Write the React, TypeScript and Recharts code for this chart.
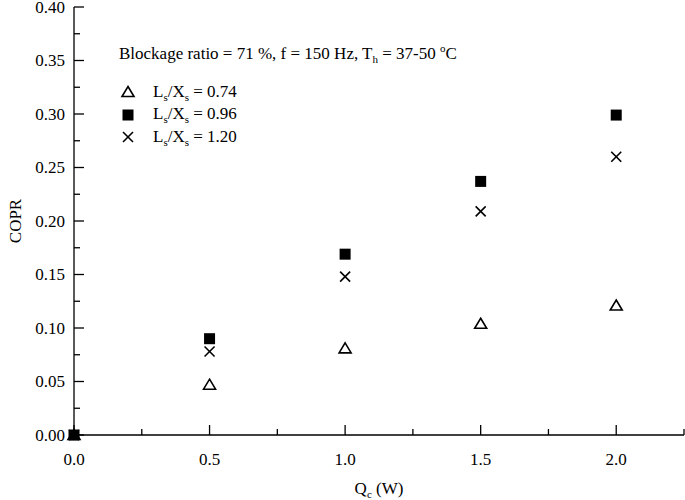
// COPR vs. cooling load scatter (Recharts), three L_s/X_s ratios.

import { ScatterChart, Scatter, XAxis, YAxis } from 'recharts';

const qc = [0, 0.5, 1.0, 1.5, 2.0];
const copr074 = [0, 0.047, 0.081, 0.104, 0.121];
const copr096 = [0, 0.09, 0.169, 0.237, 0.299];
const copr120 = [0, 0.078, 0.148, 0.209, 0.26];

const xTicks = [0, 0.25, 0.5, 0.75, 1.0, 1.25, 1.5, 1.75, 2.0, 2.25];
const yTicks = [
  0, 0.025, 0.05, 0.075, 0.1, 0.125, 0.15, 0.175, 0.2, 0.225, 0.25, 0.275, 0.3, 0.325, 0.35, 0.375, 0.4,
];

const FONT = '"Liberation Serif", "Times New Roman", serif';
const INK = '#000';

const toPoints = (ys: number[]) => qc.map((x, i) => ({ x, y: ys[i] }));

const isMajor = (v: number, step: number) => Math.abs(v / step - Math.round(v / step)) < 1e-6;

function Tri({ cx, cy }: { cx: number; cy: number }) {
  return (
    <polygon
      points={`${cx},${cy - 5.5} ${cx + 6},${cy + 4.5} ${cx - 6},${cy + 4.5}`}
      fill="#fff"
      stroke={INK}
      strokeWidth={1.6}
    />
  );
}

function Sq({ cx, cy }: { cx: number; cy: number }) {
  return <rect x={cx - 5.5} y={cy - 5.5} width={11} height={11} fill={INK} />;
}

function Cross({ cx, cy }: { cx: number; cy: number }) {
  return (
    <g stroke={INK} strokeWidth={1.6}>
      <line x1={cx - 5} y1={cy - 5} x2={cx + 5} y2={cy + 5} />
      <line x1={cx - 5} y1={cy + 5} x2={cx + 5} y2={cy - 5} />
    </g>
  );
}

// tickSize/tickMargin are 0, so x/y is the axis line itself; ticks point inward
function BottomTick({ x, y, payload }: any) {
  const major = isMajor(payload.value, 0.5);
  return (
    <g>
      <line x1={x} x2={x} y1={y} y2={y - (major ? 10 : 6)} stroke={INK} strokeWidth={1.3} />
      {major && (
        <text x={x} y={y + 30} textAnchor="middle" fontFamily={FONT} fontSize={17} fill={INK}>
          {payload.value.toFixed(1)}
        </text>
      )}
    </g>
  );
}

function TopTick({ x, y, payload }: any) {
  const major = isMajor(payload.value, 0.5);
  return <line x1={x} x2={x} y1={y} y2={y + (major ? 10 : 6)} stroke={INK} strokeWidth={1.3} />;
}

function LeftTick({ x, y, payload }: any) {
  const major = isMajor(payload.value, 0.05);
  return (
    <g>
      <line x1={x} x2={x + (major ? 10 : 6)} y1={y} y2={y} stroke={INK} strokeWidth={1.3} />
      {major && (
        <text x={x - 9} y={y + 5.5} textAnchor="end" fontFamily={FONT} fontSize={17} fill={INK}>
          {payload.value.toFixed(2)}
        </text>
      )}
    </g>
  );
}

function RightTick({ x, y, payload }: any) {
  const major = isMajor(payload.value, 0.05);
  return <line x1={x} x2={x - (major ? 10 : 6)} y1={y} y2={y} stroke={INK} strokeWidth={1.3} />;
}

const axisLine = { stroke: INK, strokeWidth: 1.3 };

const legendRows = [
  { Shape: Tri, value: '0.74' },
  { Shape: Sq, value: '0.96' },
  { Shape: Cross, value: '1.20' },
];

const sub = { fontSize: 11 };

export default function App() {
  return (
    <div
      style={{ position: 'absolute', left: 0, top: 0, width: 685, height: 500, background: '#fff', fontFamily: FONT }}
    >
      <ScatterChart width={685} height={500} margin={{ top: 7, right: 1, left: 0, bottom: 0 }}>
        <XAxis
          xAxisId="b"
          type="number"
          dataKey="x"
          domain={[0, 2.25]}
          ticks={xTicks}
          height={65}
          tickSize={0}
          tickMargin={0}
          tickLine={false}
          axisLine={axisLine}
          tick={BottomTick}
          interval={0}
          label={({ viewBox }: any) => (
            <text
              x={viewBox.x + viewBox.width / 2}
              y={viewBox.y + 59}
              textAnchor="middle"
              fontFamily={FONT}
              fontSize={17}
              fill={INK}
            >
              Q
              <tspan dy={4} fontSize={11}>
                c
              </tspan>
              <tspan dy={-4}> (W)</tspan>
            </text>
          )}
        />
        <XAxis
          xAxisId="t"
          orientation="top"
          type="number"
          dataKey="x"
          domain={[0, 2.25]}
          ticks={xTicks}
          allowDataOverflow
          height={0}
          tickSize={0}
          tickMargin={0}
          tickLine={false}
          axisLine={axisLine}
          tick={TopTick}
          interval={0}
        />
        <YAxis
          yAxisId="l"
          type="number"
          dataKey="y"
          domain={[0, 0.4]}
          ticks={yTicks}
          width={74}
          tickSize={0}
          tickMargin={0}
          tickLine={false}
          axisLine={axisLine}
          tick={LeftTick}
          interval={0}
          label={({ viewBox }: any) => {
            const cx = viewBox.x + 15;
            const cy = viewBox.y + viewBox.height / 2;
            return (
              <text
                x={cx}
                y={cy}
                textAnchor="middle"
                dominantBaseline="central"
                transform={`rotate(-90 ${cx} ${cy})`}
                fontFamily={FONT}
                fontSize={17}
                fill={INK}
              >
                COPR
              </text>
            );
          }}
        />
        <YAxis
          yAxisId="r"
          orientation="right"
          type="number"
          dataKey="y"
          domain={[0, 0.4]}
          ticks={yTicks}
          allowDataOverflow
          width={0}
          tickSize={0}
          tickMargin={0}
          tickLine={false}
          axisLine={axisLine}
          tick={RightTick}
          interval={0}
        />
        <Scatter
          xAxisId="b"
          yAxisId="l"
          name="Ls/Xs = 0.74"
          data={toPoints(copr074)}
          isAnimationActive={false}
          shape={(p: any) => <Tri cx={p.cx} cy={p.cy} />}
        />
        <Scatter
          xAxisId="b"
          yAxisId="l"
          name="Ls/Xs = 1.20"
          data={toPoints(copr120)}
          isAnimationActive={false}
          shape={(p: any) => <Cross cx={p.cx} cy={p.cy} />}
        />
        <Scatter
          xAxisId="b"
          yAxisId="l"
          name="Ls/Xs = 0.96"
          data={toPoints(copr096)}
          isAnimationActive={false}
          shape={(p: any) => <Sq cx={p.cx} cy={p.cy} />}
        />
        {/* mirror axes need a series to get a domain */}
        <Scatter xAxisId="t" yAxisId="r" data={[]} isAnimationActive={false} />
      </ScatterChart>

      <div
        style={{
          position: 'absolute',
          left: 119,
          top: 37,
          fontSize: 17,
          lineHeight: '22px',
          color: INK,
          whiteSpace: 'nowrap',
        }}
      >
        Blockage ratio = 71 %, f = 150 Hz, T<sub style={sub}>h</sub> = 37-50 <sup style={sub}>o</sup>C
      </div>
      <div style={{ position: 'absolute', left: 116, top: 81, fontSize: 17, color: INK }}>
        {legendRows.map(({ Shape, value }) => (
          <div key={value} style={{ display: 'flex', alignItems: 'center', height: 22.5, whiteSpace: 'nowrap' }}>
            <svg width={24} height={16} style={{ marginRight: 13 }}>
              <Shape cx={12} cy={8} />
            </svg>
            <span>
              L<sub style={sub}>s</sub>/X<sub style={sub}>s</sub> = {value}
            </span>
          </div>
        ))}
      </div>
    </div>
  );
}
